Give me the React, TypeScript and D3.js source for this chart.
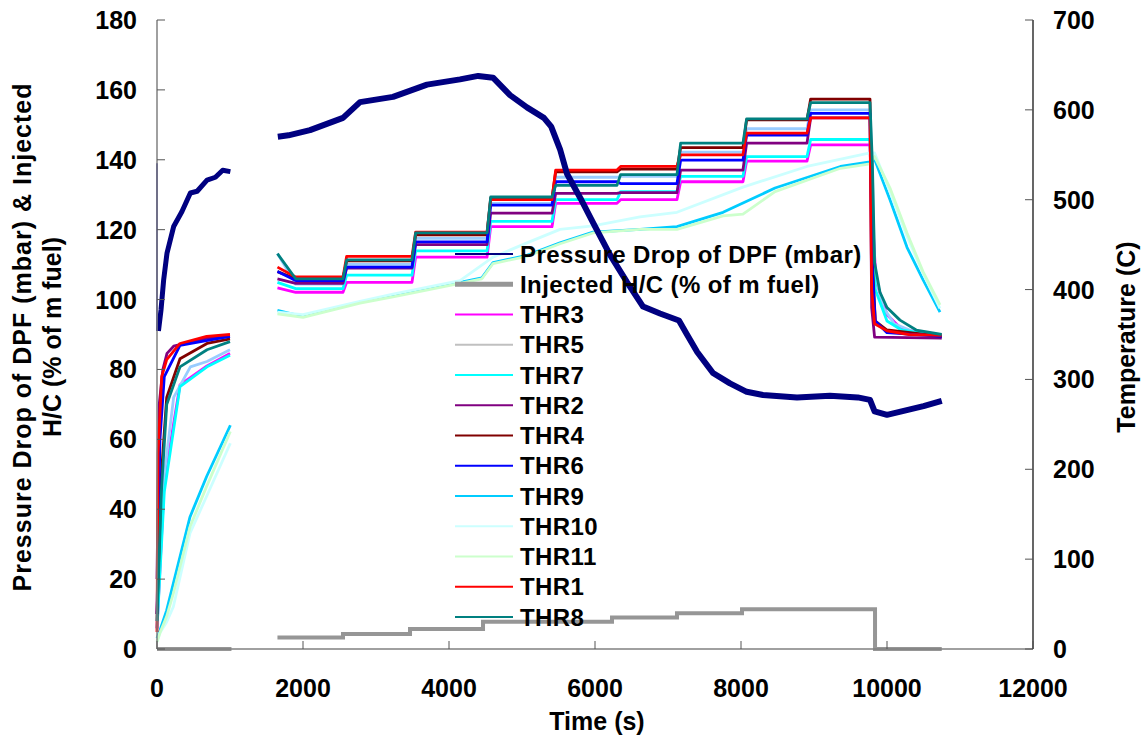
import React from "react";
import * as d3 from "d3";

type Pt = [number, number];

// ---- X axis ticks
const timeTicks = [0, 2000, 4000, 6000, 8000, 10000, 12000];
const leftTicks = [0, 20, 40, 60, 80, 100, 120, 140, 160, 180];
const rightTicks = [0, 100, 200, 300, 400, 500, 600, 700];

// ---- Pressure drop of DPF (mbar)
const pressureSpike: Pt[] = [[0, 139], [0, 91]];
const pressureWarmup: Pt[] = [[20, 91], [55, 97], [91, 105.6], [137, 113.3], [228, 120.9], [342, 125.2], [457, 130.5], [550, 131], [685, 134.2], [800, 135], [900, 137], [1005, 136.6]];
const pressureMain: Pt[] = [[1655, 146.6], [1800, 147], [2096, 148.5], [2548, 152], [2781, 156.5], [3233, 158], [3699, 161.5], [4151, 163], [4400, 164], [4603, 163.5], [4836, 158.5], [5068, 155], [5300, 152], [5400, 149.5], [5521, 143], [5616, 136], [5800, 129], [5973, 122], [6200, 113], [6438, 105], [6658, 98], [6890, 96], [7150, 94], [7260, 90], [7400, 85], [7616, 79], [7849, 76], [8078, 73.6], [8301, 72.7], [8767, 72], [9219, 72.5], [9600, 72], [9767, 71.3], [9830, 68], [10000, 67], [10300, 68.5], [10500, 69.5], [10750, 71]];

// ---- Injected H/C (% of m fuel)
const hcWarmupTimes = [0, 1020];
const hcWarmupValues = [0, 0];
const hcTimes = [1650, 2548, 3466, 4466, 6233, 7123, 8014, 9836, 10750];
const hcValues = [3.3, 4.3, 5.7, 7.8, 9.0, 10.2, 11.4, 0, 0];

// ---- Thermocouples (deg C)
const stepTimes = [1650, 2548, 3493, 4521, 5411, 6301, 7123, 8027, 8904, 9767];

const thr1Warmup: Pt[] = [[0, 19], [15, 218], [64, 303], [133, 322], [315, 340], [680, 348], [1000, 350]];
const thr1Start = 425;
const thr1Levels = [414, 437, 464, 500, 533, 537, 550, 574, 591];
const thr1Cool: Pt[] = [[9767, 591], [9790, 400], [9830, 362], [10000, 354], [10300, 350], [10750, 349]];

const thr2Warmup: Pt[] = [[0, 78], [30, 272], [80, 311], [137, 329], [228, 337], [685, 346], [1000, 348]];
const thr2Start = 412;
const thr2Levels = [407, 424, 450, 485, 507, 508, 533, 563, 591];
const thr2Cool: Pt[] = [[9767, 591], [9790, 380], [9830, 347], [10750, 346]];

const thr3Warmup: Pt[] = [[0, 23], [100, 187], [315, 294], [685, 315], [1000, 329]];
const thr3Start = 402;
const thr3Levels = [397, 408, 436, 470, 496, 500, 520, 543, 561];
const thr3Cool: Pt[] = [[9767, 561], [9800, 480], [9850, 410], [10000, 372], [10200, 356], [10750, 348]];

const thr4Warmup: Pt[] = [[0, 39], [60, 194], [133, 280], [315, 323], [685, 340], [1000, 345]];
const thr4Start = 420;
const thr4Levels = [412, 432, 461, 502, 531, 534, 558, 589, 612];
const thr4Cool: Pt[] = [[9767, 612], [9800, 430], [9840, 365], [10000, 355], [10750, 348]];

const thr5Warmup: Pt[] = [[0, 31], [100, 194], [228, 280], [457, 314], [685, 320], [1000, 333]];
const thr5Start = 440;
const thr5Levels = [406, 428, 457, 496, 525, 526, 553, 579, 600];
const thr5Cool: Pt[] = [[9767, 600], [9800, 530], [9830, 420], [9950, 380], [10100, 362], [10400, 352], [10750, 346]];

const thr6Warmup: Pt[] = [[0, 39], [40, 233], [100, 303], [315, 338], [1000, 348]];
const thr6Start = 420;
const thr6Levels = [410, 425, 453, 494, 520, 518, 544, 572, 596];
const thr6Cool: Pt[] = [[9767, 596], [9800, 420], [9840, 365], [10000, 352], [10750, 348]];

const thr7Warmup: Pt[] = [[0, 23], [100, 175], [315, 292], [685, 314], [1000, 327]];
const thr7Start = 408;
const thr7Levels = [401, 416, 443, 476, 500, 509, 526, 548, 567];
const thr7Cool: Pt[] = [[9767, 567], [9800, 480], [9840, 400], [10000, 365], [10200, 355], [10750, 348]];

const thr8Warmup: Pt[] = [[0, 31], [60, 175], [133, 272], [315, 314], [685, 333], [1000, 342]];
const thr8Start = 440;
const thr8Levels = [412, 433, 463, 503, 516, 528, 563, 590, 608];
const thr8Cool: Pt[] = [[9767, 608], [9800, 540], [9830, 430], [9904, 397], [10000, 380], [10178, 366], [10400, 355], [10750, 350]];

const thr9Warmup: Pt[] = [[0, 12], [41, 21], [132, 43], [224, 73], [452, 147], [680, 192], [1005, 249]];
const thr9Main: Pt[] = [[1650, 377], [2000, 370], [2781, 386], [3233, 393], [4151, 408], [4450, 413], [4603, 430], [5068, 438], [5521, 452], [5973, 464], [6616, 467], [7123, 470], [7754, 486], [8466, 513], [9362, 537], [9767, 542], [9830, 545], [10041, 500], [10274, 447], [10493, 411], [10726, 375]];

const thr10Warmup: Pt[] = [[0, 8], [41, 18], [132, 30], [224, 47], [452, 129], [680, 170], [1005, 229]];
const thr10Main: Pt[] = [[1650, 375], [2000, 372], [2781, 387], [3233, 395], [4151, 410], [4603, 436], [5068, 452], [5521, 467], [5973, 471], [6616, 481], [7123, 486], [8027, 514], [8904, 537], [9767, 552], [9830, 552], [10041, 509], [10274, 459], [10493, 418], [10726, 379]];

const thr11Warmup: Pt[] = [[0, 8], [41, 18], [132, 36], [224, 62], [452, 136], [680, 181], [1005, 242]];
const thr11Main: Pt[] = [[1650, 373], [2000, 369], [2781, 385], [3233, 392], [4151, 407], [4450, 412], [4603, 429], [5068, 437], [5521, 451], [5973, 463], [6616, 467], [7123, 467], [7754, 482], [8027, 484], [8466, 509], [9362, 535], [9767, 540], [9830, 548], [10041, 513], [10274, 463], [10493, 420], [10726, 383]];

function plateauPath(start: number, levels: number[], cool: Pt[]): Pt[] {
  const pts: Pt[] = [[stepTimes[0], start], [stepTimes[0] + 250, levels[0]]];
  levels.forEach((lv, i) => {
    if (i > 0) pts.push([stepTimes[i] + 50, lv]);
    pts.push([stepTimes[i + 1], lv]);
  });
  return pts.concat(cool.slice(1));
}

interface Series { name: string; color: string; legendColor: string; parts: Pt[][]; }

const thrSeries: Series[] = [
  { name: "THR3", color: "#FF00FF", legendColor: "#FF00FF", parts: [thr3Warmup, plateauPath(thr3Start, thr3Levels, thr3Cool)] },
  { name: "THR5", color: "#99CCFF", legendColor: "#C0C0C0", parts: [thr5Warmup, plateauPath(thr5Start, thr5Levels, thr5Cool)] },
  { name: "THR7", color: "#00FFFF", legendColor: "#00FFFF", parts: [thr7Warmup, plateauPath(thr7Start, thr7Levels, thr7Cool)] },
  { name: "THR2", color: "#800080", legendColor: "#800080", parts: [thr2Warmup, plateauPath(thr2Start, thr2Levels, thr2Cool)] },
  { name: "THR4", color: "#800000", legendColor: "#800000", parts: [thr4Warmup, plateauPath(thr4Start, thr4Levels, thr4Cool)] },
  { name: "THR6", color: "#0000FF", legendColor: "#0000FF", parts: [thr6Warmup, plateauPath(thr6Start, thr6Levels, thr6Cool)] },
  { name: "THR9", color: "#00CCFF", legendColor: "#00CCFF", parts: [thr9Warmup, thr9Main] },
  { name: "THR10", color: "#CCFFFF", legendColor: "#CCFFFF", parts: [thr10Warmup, thr10Main] },
  { name: "THR11", color: "#CCFFCC", legendColor: "#CCFFCC", parts: [thr11Warmup, thr11Main] },
  { name: "THR1", color: "#FF0000", legendColor: "#FF0000", parts: [thr1Warmup, plateauPath(thr1Start, thr1Levels, thr1Cool)] },
  { name: "THR8", color: "#008080", legendColor: "#008080", parts: [thr8Warmup, plateauPath(thr8Start, thr8Levels, thr8Cool)] },
];

const W = 1147, H = 744;
const X0 = 157, X1 = 1033, Y0 = 649, Y1 = 20;
const FONT = "'Liberation Sans', Arial, Helvetica, sans-serif";

export default function App() {
  const x = d3.scaleLinear().domain([0, 12000]).range([X0, X1]);
  const yL = d3.scaleLinear().domain([0, 180]).range([Y0, Y1]);
  const yR = d3.scaleLinear().domain([0, 700]).range([Y0, Y1]);

  const lineR = d3.line<Pt>().x((d) => x(d[0])).y((d) => yR(d[1]));
  const lineL = d3.line<Pt>().x((d) => x(d[0])).y((d) => yL(d[1]));
  const stepL = d3.line<Pt>().x((d) => x(d[0])).y((d) => yL(d[1])).curve(d3.curveStepAfter);

  const hcWarm: Pt[] = hcWarmupTimes.map((t, i) => [t, hcWarmupValues[i]]);
  const hcMain: Pt[] = hcTimes.map((t, i) => [t, hcValues[i]]);

  const legendItems = [
    { name: "Pressure Drop of DPF (mbar)", color: "#000080", w: 2 },
    { name: "Injected H/C (% of m fuel)", color: "#969696", w: 5 },
    ...thrSeries.map((s) => ({ name: s.name, color: s.legendColor, w: 2 })),
  ];

  return (
    <svg width={W} height={H} style={{ position: "absolute", left: 0, top: 0, background: "#fff" }} fontFamily={FONT} fontWeight="bold">
      <rect x={0} y={0} width={W} height={H} fill="#fff" />
      {/* temperature series */}
      {thrSeries.map((s) =>
        s.parts.map((p, j) => (
          <path key={s.name + j} d={lineR(p) || ""} fill="none" stroke={s.color} strokeWidth={2.8} strokeLinejoin="round" />
        ))
      )}
      {/* injected H/C */}
      <path d={stepL(hcWarm) || ""} fill="none" stroke="#969696" strokeWidth={4} />
      <path d={stepL(hcMain) || ""} fill="none" stroke="#969696" strokeWidth={4} />
      {/* pressure drop */}
      <path d={lineL(pressureSpike) || ""} fill="none" stroke="#000080" strokeWidth={1.5} />
      <path d={lineL(pressureWarmup) || ""} fill="none" stroke="#000080" strokeWidth={5} strokeLinejoin="round" />
      <path d={lineL(pressureMain) || ""} fill="none" stroke="#000080" strokeWidth={6} strokeLinejoin="round" />

      {/* axes */}
      <line x1={X0} x2={X0} y1={Y1} y2={Y0} stroke="#808080" strokeWidth={1.5} />
      <line x1={X0} x2={X1} y1={Y0} y2={Y0} stroke="#808080" strokeWidth={1.5} />
      <line x1={X1} x2={X1} y1={Y1} y2={Y0} stroke="#000" strokeWidth={1.2} />
      {leftTicks.map((t) => (
        <g key={"l" + t}>
          <line x1={X0} x2={X0 + 8} y1={yL(t)} y2={yL(t)} stroke="#555" strokeWidth={1} />
          <text x={X0 - 20} y={yL(t)} textAnchor="end" dominantBaseline="central" fontSize={25}>{t}</text>
        </g>
      ))}
      {rightTicks.map((t) => (
        <g key={"r" + t}>
          <line x1={X1 - 8} x2={X1} y1={yR(t)} y2={yR(t)} stroke="#555" strokeWidth={1} />
          <text x={X1 + 20} y={yR(t)} textAnchor="start" dominantBaseline="central" fontSize={25}>{t}</text>
        </g>
      ))}
      {timeTicks.map((t) => (
        <g key={"b" + t}>
          <line x1={x(t)} x2={x(t)} y1={Y0} y2={Y0 - 8} stroke="#555" strokeWidth={1} />
          <text x={x(t)} y={688} textAnchor="middle" dominantBaseline="central" fontSize={25}>{t}</text>
        </g>
      ))}
      <text x={597} y={721} textAnchor="middle" dominantBaseline="central" fontSize={25}>Time (s)</text>
      <text transform="translate(22,337) rotate(-90)" textAnchor="middle" dominantBaseline="central" fontSize={25} letterSpacing={1}>Pressure Drop of DPF (mbar) &amp; Injected</text>
      <text transform="translate(52,337) rotate(-90)" textAnchor="middle" dominantBaseline="central" fontSize={25}>H/C (% of m fuel)</text>
      <text transform="translate(1126,337) rotate(-90)" textAnchor="middle" dominantBaseline="central" fontSize={25}>Temperature (C)</text>

      {/* legend */}
      {legendItems.map((it, i) => {
        const y = 254 + i * 30.25;
        return (
          <g key={it.name}>
            <line x1={455} x2={513} y1={y} y2={y} stroke={it.color} strokeWidth={it.w} />
            <text x={520} y={y} dominantBaseline="central" fontSize={24} letterSpacing={0.4}>{it.name}</text>
          </g>
        );
      })}
    </svg>
  );
}
